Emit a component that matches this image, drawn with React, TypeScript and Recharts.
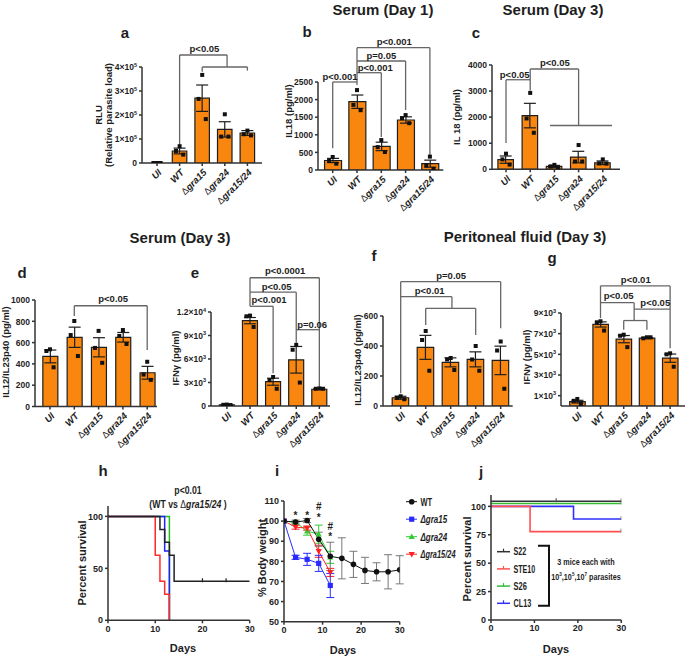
import React from "react";
import {
  ComposedChart,
  Bar,
  Scatter,
  ErrorBar,
  Line,
  XAxis,
  YAxis,
  ReferenceLine,
  ReferenceDot,
} from "recharts";

const FONT = "'Liberation Sans', Arial, sans-serif";
const ORANGE = "#f8860f";
const INK = "#1e1e1e";
const AXIS = "#333";
const BRACKET = "#666";

const groups = ["UI", "WT", "Δgra15", "Δgra24", "Δgra15/24"];

// a: parasite load (RLU)
const aMean = [0, 50000, 270000, 140000, 125000];
const aSem = [0, 12000, 55000, 32000, 10000];
const aDots = [[0, 0, 0], [70000, 50000, 35000], [367000, 267000, 183000], [203000, 110000, 110000], [135000, 120000, 115000]];
const aLines = [[1, 75000, 1, 450000], [1, 450000, 3.1, 450000], [3.1, 450000, 3.1, 400000], [2, 400000, 4, 400000], [2, 400000, 2, 380000], [4, 400000, 4, 385000]];
const aP = [{ x: 2.1, y: 462000, text: "p<0.05" }];

// b: serum IL18 day 1
const bMean = [270, 1940, 670, 1420, 180];
const bSem = [60, 190, 120, 90, 100];
const bDots = [[370, 260, 180], [2270, 1850, 1700], [850, 650, 510], [1560, 1470, 1330], [380, 130, 30]];
const bLines = [[0, 616, 0, 2500], [0, 2500, 1, 2500], [1, 2415, 1, 3475], [1, 2764, 2, 2764], [2, 2764, 2, 937], [1, 3097, 3, 3097], [3, 3097, 3, 1705], [1, 3475, 4, 3475], [4, 3475, 4, 426]];
const bP = [
  { x: 0.3, y: 2557, text: "p<0.001" },
  { x: 1.75, y: 2821, text: "p<0.001" },
  { x: 2.0, y: 3154, text: "p=0.05" },
  { x: 2.53, y: 3551, text: "p<0.001" },
];

// c: serum IL18 day 3
const cMean = [370, 2060, 110, 470, 250];
const cSem = [140, 470, 40, 220, 70];
const cDots = [[600, 380, 180], [2930, 1950, 1400], [170, 110, 60], [930, 300, 300], [380, 230, 220]];
const cLines = [[0, 1012, 0, 3435], [0, 3435, 1, 3435], [1, 3023, 1, 3846], [1, 3846, 3, 3846], [3, 3846, 3, 1680], [1.82, 1680, 4.38, 1680]];
const cP = [
  { x: 0.36, y: 3492, text: "p<0.05" },
  { x: 2.02, y: 3973, text: "p<0.05" },
];

// d: serum IL12/IL23p40 day 3
const dMean = [470, 650, 556, 650, 317];
const dSem = [60, 95, 90, 45, 60];
const dDots = [[537, 521, 368], [803, 671, 474], [710, 550, 410], [718, 662, 587], [420, 300, 250]];
const dLines = [[1, 850, 1, 946], [1, 946, 4, 946], [4, 946, 4, 530]];
const dP = [{ x: 2.6, y: 984, text: "p<0.05" }];

// e: serum IFNγ day 3
const eMean = [150, 10900, 3100, 5900, 2140];
const eSem = [20, 400, 450, 1700, 50];
const eDots = [[180, 150, 120], [11540, 11450, 10090], [3700, 3300, 2200], [7800, 7180, 2990], [2250, 2200, 2200]];
const eLines = [[1, 12730, 1, 16370], [1, 16370, 4, 16370], [4, 16370, 4, 2470], [1, 14530, 3, 14530], [3, 14530, 3, 7800], [1, 12730, 2, 12730], [2, 12730, 2, 4190], [3, 9740, 4, 9740]];
const eP = [
  { x: 2.52, y: 16795, text: "p<0.0001" },
  { x: 2.15, y: 14870, text: "p<0.05" },
  { x: 1.82, y: 13165, text: "p<0.001" },
  { x: 3.69, y: 9960, text: "p=0.06" },
];

// f: peritoneal IL12/IL23p40 day 3
const fMean = [55, 391, 291, 311, 304];
const fSem = [10, 80, 30, 50, 95];
const fDots = [[65, 55, 45], [500, 440, 235], [320, 310, 240], [400, 310, 235], [430, 370, 115]];
const fLines = [[0, 85, 0, 829], [0, 829, 4, 829], [4, 829, 4, 518], [0, 729, 2.05, 729], [2.05, 729, 2.05, 651], [1, 651, 3, 651], [1, 651, 1, 540], [3, 651, 3, 473]];
const fP = [
  { x: 1.16, y: 747, text: "p<0.01" },
  { x: 2.02, y: 845, text: "p=0.05" },
];

// g: peritoneal IFNγ day 3
const gMean = [420, 7890, 6470, 6570, 4630];
const gSem = [130, 250, 350, 50, 400];
const gDots = [[680, 500, 200], [8200, 8100, 7300], [6900, 6800, 5700], [6650, 6550, 6650], [5100, 5000, 3800]];
const gLines = [[1, 8500, 1, 11620], [1, 11620, 4, 11620], [4, 11620, 4, 5600], [1, 10000, 2.45, 10000], [2.45, 10000, 2.45, 8270], [2, 8270, 3, 8270], [2, 8270, 2, 7370], [3, 8270, 3, 7370], [2.45, 9370, 4, 9370]];
const gP = [
  { x: 2.52, y: 11880, text: "p<0.01" },
  { x: 1.78, y: 10365, text: "p<0.05" },
  { x: 3.36, y: 9690, text: "p<0.05" },
];

// h: survival, [day, percent]
const hWT = [[0, 100], [11, 87.5], [12, 75], [13, 62.5], [14, 37.5], [30, 37.5]];
const hGra15 = [[0, 100], [12, 66.7], [13, 0]];
const hGra24 = [[0, 100], [13, 0]];
const hGra1524 = [[0, 100], [10, 62.5], [11, 37.5], [12, 25], [13, 0]];
const hCensor = [[20, 37.5], [25, 37.5]];

// i: body weight
const iDays = [0, 3, 6, 9, 12, 15, 18, 21, 24, 27, 30];
const iWT = [100, 99.5, 100.3, 91, 82.5, 81.5, 78.5, 75.5, 74.8, 74.8, 75.8];
const iWTErr = [0, 1, 1, 3.5, 7, 10.2, 6.5, 6.5, 4.5, 8.5, 7];
const iGra15 = [100, 82, 81, 79, 68];
const iGra15Err = [0, 1, 3, 4, 6];
const iGra24 = [100, 99.5, 95, 93.5, 82];
const iGra24Err = [0, 0.5, 2, 4.5, 3];
const iGra1524 = [100, 97, 96.5, 85, 74.5];
const iGra1524Err = [0, 1, 1, 3, 2];
const iMarks = [
  { x: 3, y: 101.2, text: "*" },
  { x: 6, y: 101.2, text: "*" },
  { x: 9, y: 105.6, text: "#" },
  { x: 9, y: 100.2, text: "*" },
  { x: 12, y: 95.8, text: "#" },
  { x: 12, y: 90.8, text: "*" },
];

// j: survival of other strains
const jS22 = [[0, 104.5], [30, 104.5]];
const jS26 = [[0, 102.5], [30, 102.5]];
const jSTE10 = [[0, 100], [9, 77.8], [30, 77.8]];
const jCL13 = [[0, 100], [19, 88.9], [30, 88.9]];
const jCensor = [[15, 104.5], [30, 104.5], [30, 102.5], [30, 77.8], [30, 88.9]];

const JITTER = [0, -3.6, 3.6];

const plainFmt = (v: number) => [String(v)];
const sciFmt = (v: number) => {
  if (v === 0) return ["0"];
  const exp = Math.floor(Math.log10(v) + 1e-9);
  const mant = +(v / Math.pow(10, exp)).toFixed(1);
  return [`${mant}×10`, String(exp)];
};

function SciTick(props: any) {
  const { x, y, payload, fmt } = props;
  const [base, exp] = fmt(payload.value);
  return (
    <text x={x} y={y} dy={3.2} textAnchor="end" fontSize={8.5} fontWeight="bold" fill={INK} fontFamily={FONT}>
      {base}
      {exp ? (
        <tspan dy={-3.5} fontSize={5.5}>
          {exp}
        </tspan>
      ) : null}
    </text>
  );
}

function GroupTick(props: any) {
  const { x, y, payload } = props;
  const name = groups[payload.value] ?? "";
  const delta = name.startsWith("Δ");
  return (
    <g transform={`translate(${x + 3},${y + 3}) rotate(-45)`}>
      <text textAnchor="end" dy={3} fontSize={9.5} fontWeight="bold" fontStyle="italic" fill={INK} fontFamily={FONT}>
        {delta ? (
          <tspan fontStyle="normal" fontWeight="normal">
            Δ
          </tspan>
        ) : null}
        {delta ? name.slice(1) : name}
      </text>
    </g>
  );
}

const squareAt = (dx: number) => (props: any) => (
  <rect x={props.cx + dx - 2} y={props.cy - 2} width={4} height={4} fill="#111" />
);

function textShape(text: string, size: number) {
  return (props: any) => (
    <text x={props.cx} y={props.cy} textAnchor="middle" fontSize={size} fontWeight="bold" fill={INK} fontFamily={FONT}>
      {text}
    </text>
  );
}

const BL = 44;
const BT = 56;
const BR = 12;
const BB = 72;

function BarPanel(p: any) {
  const [x1, y1, x2, y2] = p.box;
  const data = groups.map((_, i) => ({
    idx: i,
    mean: p.mean[i],
    sem: p.sem[i],
    r0: p.dots[i][0],
    r1: p.dots[i][1],
    r2: p.dots[i][2],
  }));
  return (
    <div style={{ position: "absolute", left: x1 - BL, top: y1 - BT }}>
      <ComposedChart
        width={x2 - x1 + BL + BR}
        height={y2 - y1 + BT + BB}
        data={data}
        margin={{ top: BT, right: BR, bottom: 0, left: 0 }}
      >
        <XAxis
          type="number"
          dataKey="idx"
          domain={p.xDomain}
          ticks={[0, 1, 2, 3, 4]}
          allowDataOverflow
          interval={0}
          height={BB}
          tick={<GroupTick />}
          stroke={AXIS}
          strokeWidth={1.5}
          tickSize={3}
        />
        <YAxis
          type="number"
          domain={p.yDomain}
          ticks={p.yTicks}
          allowDataOverflow
          interval={0}
          width={BL}
          tick={(t: any) => <SciTick {...t} fmt={p.fmt} />}
          stroke={AXIS}
          strokeWidth={1.5}
          tickSize={3}
        />
        <Bar dataKey="mean" barSize={p.barSize} fill={ORANGE} stroke={INK} strokeWidth={1.2} isAnimationActive={false}>
          <ErrorBar dataKey="sem" width={6} stroke={INK} strokeWidth={1.2} />
        </Bar>
        {JITTER.map((dx, k) => (
          <Scatter key={k} dataKey={`r${k}`} shape={squareAt(dx)} isAnimationActive={false} />
        ))}
        {p.lines.map((s: number[], i: number) => (
          <ReferenceLine
            key={`l${i}`}
            segment={[{ x: s[0], y: s[1] }, { x: s[2], y: s[3] }]}
            stroke={BRACKET}
            strokeWidth={1.3}
            ifOverflow="visible"
          />
        ))}
        {p.labels.map((l: any, i: number) => (
          <ReferenceDot key={`p${i}`} x={l.x} y={l.y} r={0} ifOverflow="visible" shape={textShape(l.text, 9.5)} />
        ))}
      </ComposedChart>
    </div>
  );
}

const LL = 40;
const LT = 20;
const LR = 15;
const LB = 30;

const pts = (arr: number[][]) => arr.map(([day, v]) => ({ day, v }));
const tickStyle = { fontSize: 9, fontWeight: "bold", fill: INK, fontFamily: FONT };

const censorShape = (color: string) => (props: any) => (
  <line x1={props.cx} x2={props.cx} y1={props.cy - 3} y2={props.cy + 1} stroke={color} strokeWidth={1.2} />
);

function LinePanel(p: any) {
  const [x1, y1, x2, y2] = p.box;
  return (
    <div style={{ position: "absolute", left: x1 - LL, top: y1 - LT }}>
      <ComposedChart
        width={x2 - x1 + LL + LR}
        height={y2 - y1 + LT + LB}
        margin={{ top: LT, right: LR, bottom: 0, left: 0 }}
      >
        <XAxis
          type="number"
          dataKey="day"
          domain={[0, 30]}
          ticks={[0, 10, 20, 30]}
          allowDataOverflow
          height={LB}
          tick={tickStyle}
          stroke={AXIS}
          strokeWidth={1.5}
          tickSize={3}
        />
        <YAxis
          type="number"
          domain={p.yDomain}
          ticks={p.yTicks}
          allowDataOverflow
          interval={0}
          width={LL}
          tick={tickStyle}
          stroke={AXIS}
          strokeWidth={1.5}
          tickSize={3}
        />
        {p.children}
      </ComposedChart>
    </div>
  );
}

function Marker({ kind, cx, cy, color }: any) {
  if (kind === "circle") return <circle cx={cx} cy={cy} r={2.8} fill={color} />;
  if (kind === "square") return <rect x={cx - 2.6} y={cy - 2.6} width={5.2} height={5.2} fill={color} />;
  if (kind === "up")
    return <polygon points={`${cx},${cy - 3.3} ${cx + 3.1},${cy + 2.3} ${cx - 3.1},${cy + 2.3}`} fill={color} />;
  return <polygon points={`${cx},${cy + 3.3} ${cx + 3.1},${cy - 2.3} ${cx - 3.1},${cy - 2.3}`} fill={color} />;
}

const iSeries = [
  { name: "Δgra24", vals: iGra24, err: iGra24Err, color: "#33cc33", kind: "up" },
  { name: "Δgra15/24", vals: iGra1524, err: iGra1524Err, color: "#ff2020", kind: "down" },
  { name: "Δgra15", vals: iGra15, err: iGra15Err, color: "#2a2aff", kind: "square" },
  { name: "WT", vals: iWT, err: iWTErr, color: "#111", kind: "circle" },
];
const iLegend = ["WT", "Δgra15", "Δgra24", "Δgra15/24"];
const iLegendWidth = [11.7, 26.7, 26.7, 35];

const jSeries = [
  { name: "S22", pts: jS22, color: "#333" },
  { name: "STE10", pts: jSTE10, color: "#ff5050" },
  { name: "S26", pts: jS26, color: "#33bb33" },
  { name: "CL13", pts: jCL13, color: "#2f2fff" },
];
const jLegendWidth = [12.7, 21.7, 13.3, 17.7];

function Txt({ x, y, size = 10, rotate = false, weight = 700, sx = 1, children }: any) {
  return (
    <div
      style={{
        position: "absolute",
        left: x,
        top: y,
        transform: `translate(-50%,-50%)${rotate ? " rotate(-90deg)" : ""}${sx !== 1 ? ` scaleX(${sx})` : ""}`,
        fontSize: size,
        fontWeight: weight,
        whiteSpace: "nowrap",
        lineHeight: 1.1,
        textAlign: "center",
        color: INK,
      }}
    >
      {children}
    </div>
  );
}

function Gene({ name }: { name: string }) {
  return (
    <>
      <span style={{ fontWeight: 400 }}>Δ</span>
      <i>{name.slice(1)}</i>
    </>
  );
}

export default function App() {
  const iTable = (vals: number[], err: number[]) => vals.map((v, k) => ({ day: iDays[k], v, e: err[k] }));
  return (
    <div
      style={{
        position: "absolute",
        left: 0,
        top: 0,
        width: 687,
        height: 658,
        overflow: "hidden",
        background: "#fff",
        fontFamily: FONT,
      }}
    >
      <BarPanel box={[142, 67, 262, 163]} xDomain={[-0.664, 4.646]} yDomain={[0, 400000]} yTicks={[0, 100000, 200000, 300000, 400000]} fmt={sciFmt} barSize={14.5} mean={aMean} sem={aSem} dots={aDots} lines={aLines} labels={aP} />
      <BarPanel box={[318, 82, 443.3, 170]} xDomain={[-0.605, 4.551]} yDomain={[0, 2500]} yTicks={[0, 500, 1000, 1500, 2000, 2500]} fmt={plainFmt} barSize={17} mean={bMean} sem={bSem} dots={bDots} lines={bLines} labels={bP} />
      <BarPanel box={[492, 65, 620, 169.3]} xDomain={[-0.579, 4.711]} yDomain={[0, 4000]} yTicks={[0, 1000, 2000, 3000, 4000]} fmt={plainFmt} barSize={15.5} mean={cMean} sem={cSem} dots={cDots} lines={cLines} labels={cP} />
      <BarPanel box={[35, 300, 157, 406.5]} xDomain={[-0.617, 4.403]} yDomain={[0, 1000]} yTicks={[0, 200, 400, 600, 800, 1000]} fmt={plainFmt} barSize={15} mean={dMean} sem={dSem} dots={dDots} lines={dLines} labels={dP} />
      <BarPanel box={[211, 312, 330, 406]} xDomain={[-0.688, 4.461]} yDomain={[0, 12000]} yTicks={[0, 3000, 6000, 9000, 12000]} fmt={sciFmt} barSize={15} mean={eMean} sem={eSem} dots={eDots} lines={eLines} labels={eP} />
      <BarPanel box={[383.3, 316, 513, 406]} xDomain={[-0.708, 4.48]} yDomain={[0, 600]} yTicks={[0, 200, 400, 600]} fmt={plainFmt} barSize={16.5} mean={fMean} sem={fSem} dots={fDots} lines={fLines} labels={fP} />
      <BarPanel box={[561, 313.3, 685, 406.3]} xDomain={[-0.703, 4.642]} yDomain={[0, 9000]} yTicks={[1000, 3000, 5000, 7000, 9000]} fmt={sciFmt} barSize={15.5} mean={gMean} sem={gSem} dots={gDots} lines={gLines} labels={gP} />

      <LinePanel box={[108.3, 505.7, 250, 620]} yDomain={[0, 110]} yTicks={[0, 50, 100]}>
        <Line data={pts(hGra24)} dataKey="v" type="stepAfter" stroke="#22bb22" strokeWidth={1.5} dot={false} isAnimationActive={false} />
        <Line data={pts(hGra15)} dataKey="v" type="stepAfter" stroke="#2020ff" strokeWidth={1.5} dot={false} isAnimationActive={false} />
        <Line data={pts(hGra1524)} dataKey="v" type="stepAfter" stroke="#ff2a2a" strokeWidth={1.5} dot={false} isAnimationActive={false} />
        <Line data={pts(hWT)} dataKey="v" type="stepAfter" stroke="#222" strokeWidth={1.5} dot={false} isAnimationActive={false} />
        <Scatter data={pts(hCensor)} dataKey="v" shape={censorShape("#222")} isAnimationActive={false} />
      </LinePanel>

      <LinePanel box={[284.3, 501, 400, 621.7]} yDomain={[50, 110]} yTicks={[50, 60, 70, 80, 90, 100, 110]}>
        {iSeries.map((s) => (
          <Line
            key={s.name}
            data={iTable(s.vals, s.err)}
            dataKey="v"
            stroke={s.color}
            strokeWidth={1}
            isAnimationActive={false}
            dot={(d: any) => <Marker key={d.index} kind={s.kind} cx={d.cx} cy={d.cy} color={s.color} />}
          >
            <ErrorBar dataKey="e" width={4} stroke={s.name === "WT" ? "#777" : s.color} strokeWidth={1} />
          </Line>
        ))}
        {iMarks.map((m, k) => (
          <ReferenceDot key={k} x={m.x} y={m.y} r={0} ifOverflow="visible" shape={textShape(m.text, 10)} />
        ))}
      </LinePanel>

      <LinePanel box={[490.7, 495, 621, 620]} yDomain={[0, 110]} yTicks={[0, 25, 50, 75, 100]}>
        {[jSeries[3], jSeries[1], jSeries[2], jSeries[0]].map((s) => (
          <Line key={s.name} data={pts(s.pts)} dataKey="v" type="stepAfter" stroke={s.color} strokeWidth={1.6} dot={false} isAnimationActive={false} />
        ))}
        <Scatter data={pts(jCensor)} dataKey="v" shape={censorShape("#555")} isAnimationActive={false} />
      </LinePanel>

      {/* panel i legend */}
      <svg style={{ position: "absolute", left: 400, top: 490 }} width={90} height={75}>
        {iLegend.map((name, k) => {
          const s = iSeries.find((q) => q.name === name)!;
          const cy = 11.7 + k * 17.5;
          return (
            <g key={name}>
              <line x1={6} x2={17} y1={cy} y2={cy} stroke={s.color} strokeWidth={1} />
              <Marker kind={s.kind} cx={11.7} cy={cy} color={s.color} />
              <text
                x={20.5}
                y={cy + 3.8}
                fontSize={10.5}
                fontWeight="bold"
                fontStyle={name.startsWith("Δ") ? "italic" : "normal"}
                fill={INK}
                fontFamily={FONT}
                textLength={iLegendWidth[k]}
                lengthAdjust="spacingAndGlyphs"
              >
                {name}
              </text>
            </g>
          );
        })}
      </svg>

      {/* panel j legend */}
      <svg style={{ position: "absolute", left: 490, top: 540 }} width={140} height={72}>
        {jSeries.map((s, k) => {
          const cy = 11.7 + k * 17.2;
          return (
            <g key={s.name}>
              <line x1={7} x2={20} y1={cy} y2={cy} stroke={s.color} strokeWidth={1.5} />
              <line x1={13.5} x2={13.5} y1={cy - 3} y2={cy} stroke={s.color} strokeWidth={1.2} />
              <text
                x={23.5}
                y={cy + 3.6}
                fontSize={10}
                fontWeight="bold"
                fill={INK}
                fontFamily={FONT}
                textLength={jLegendWidth[k]}
                lengthAdjust="spacingAndGlyphs"
              >
                {s.name}
              </text>
            </g>
          );
        })}
        <polyline points="48,5.7 59,5.7 59,65.7 48,65.7" fill="none" stroke="#111" strokeWidth={2} />
      </svg>

      {/* titles */}
      <Txt x={383} y={10} size={15}>Serum (Day 1)</Txt>
      <Txt x={553} y={10} size={15}>Serum (Day 3)</Txt>
      <Txt x={180} y={238} size={15}>Serum (Day 3)</Txt>
      <Txt x={525} y={237} size={15}>Peritoneal fluid (Day 3)</Txt>

      {/* panel letters */}
      <Txt x={125} y={33} size={15}>a</Txt>
      <Txt x={307} y={32} size={15}>b</Txt>
      <Txt x={476} y={33} size={15}>c</Txt>
      <Txt x={22} y={273} size={15}>d</Txt>
      <Txt x={195} y={273} size={15}>e</Txt>
      <Txt x={374} y={256} size={15}>f</Txt>
      <Txt x={552} y={258} size={15}>g</Txt>
      <Txt x={103} y={471} size={15}>h</Txt>
      <Txt x={277} y={471} size={15}>i</Txt>
      <Txt x={481} y={472} size={15}>j</Txt>

      {/* axis titles */}
      <Txt x={104} y={115} size={9.5} rotate>
        RLU
        <br />
        (Relative parasite load)
      </Txt>
      <Txt x={289} y={111} size={9.5} rotate>IL18 (pg/ml)</Txt>
      <Txt x={457} y={117} size={9.5} rotate>IL 18 (pg/ml)</Txt>
      <Txt x={6} y={352} size={9.5} rotate>IL12/IL23p40 (pg/ml)</Txt>
      <Txt x={176} y={358} size={9.5} rotate>IFNγ (pg/ml)</Txt>
      <Txt x={358} y={360} size={9.5} rotate>IL12/IL23p40 (pg/ml)</Txt>
      <Txt x={527} y={357} size={9.5} rotate>IFNγ (pg/ml)</Txt>
      <Txt x={82} y={563} size={11} rotate>Percent survival</Txt>
      <Txt x={262} y={558} size={11} rotate>% Body weight</Txt>
      <Txt x={467} y={559} size={11} rotate>Percent survival</Txt>
      <Txt x={183} y={648} size={11}>Days</Txt>
      <Txt x={343} y={650} size={11}>Days</Txt>
      <Txt x={556} y={649} size={11}>Days</Txt>

      {/* annotations */}
      <Txt x={188} y={490} size={10} sx={0.87}>p&lt;0.01</Txt>
      <Txt x={188} y={504} size={10} sx={0.87}>
        (WT vs <Gene name="Δgra15/24" /> )
      </Txt>
      <Txt x={586} y={562} size={9.5} sx={0.76}>3 mice each with</Txt>
      <Txt x={586} y={577} size={9.5} sx={0.76}>
        10<sup style={{ fontSize: 6 }}>3</sup>,10<sup style={{ fontSize: 6 }}>5</sup>,10<sup style={{ fontSize: 6 }}>7</sup> parasites
      </Txt>
    </div>
  );
}
